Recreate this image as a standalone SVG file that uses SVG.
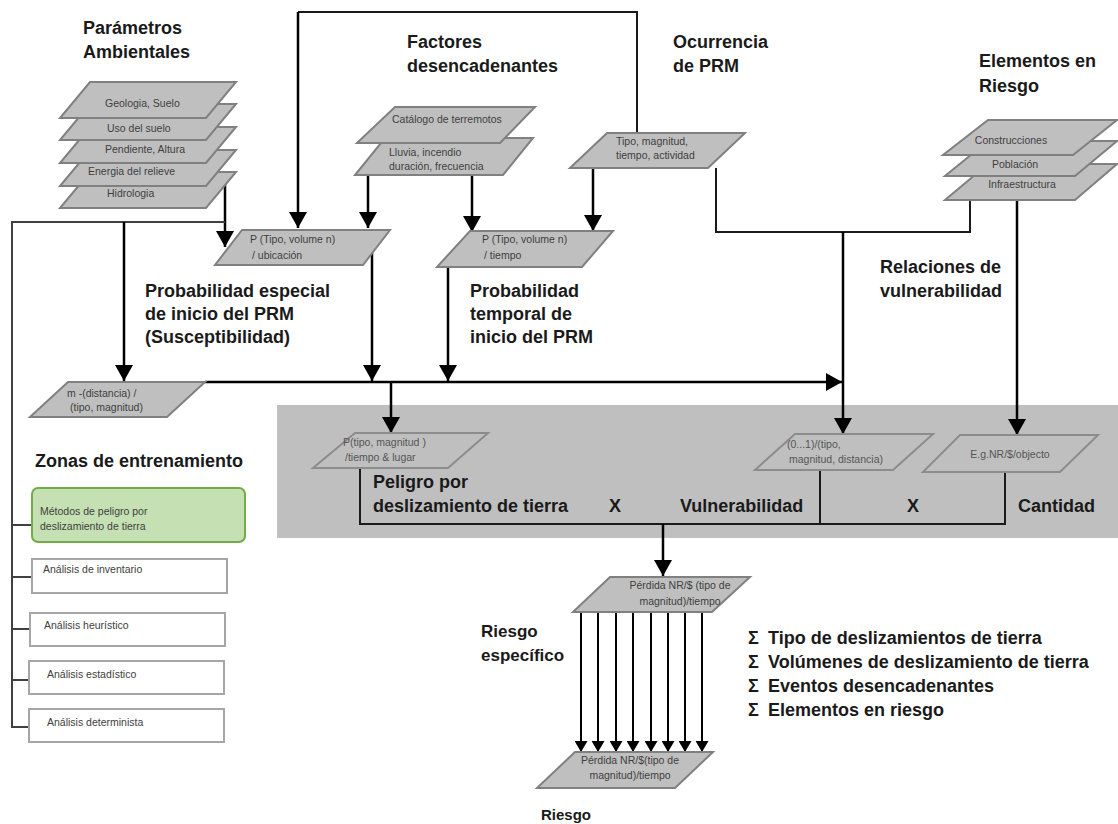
<svg xmlns="http://www.w3.org/2000/svg" width="1118" height="824" viewBox="0 0 1118 824">
<defs>
<style>
.h{font-family:"Liberation Sans",Arial,sans-serif;font-weight:bold;font-size:18px;fill:#1a1a1a}
.s{font-family:"Liberation Sans",Arial,sans-serif;font-size:10.5px;fill:#404040}
.sp{font-family:"Liberation Sans",Arial,sans-serif;font-size:10.5px;fill:#555}
.layer{fill:#bfbfbf;stroke:#808080;stroke-width:2}
.pl{fill:none;stroke:#8c8c8c;stroke-width:2}
.ar{fill:none;stroke:#000;stroke-width:2.5;marker-end:url(#ah)}
.ar2{fill:none;stroke:#000;stroke-width:2;marker-end:url(#ah2)}
.ln{fill:none;stroke:#1a1a1a;stroke-width:2}
.lg{fill:none;stroke:#404040;stroke-width:2}
.box{fill:#fff;stroke:#a6a6a6;stroke-width:2}
</style>
<marker id="ah" viewBox="0 0 16 18" refX="16" refY="9" markerWidth="16" markerHeight="18" markerUnits="userSpaceOnUse" orient="auto"><path d="M0,0 L16,9 L0,18 z" fill="#000"/></marker>
<marker id="ah2" viewBox="0 0 11 13" refX="11" refY="6.5" markerWidth="11" markerHeight="13" markerUnits="userSpaceOnUse" orient="auto"><path d="M0,0 L11,6.5 L0,13 z" fill="#000"/></marker>
</defs>
<rect width="1118" height="824" fill="#fff"/>

<g id="panel"><rect x="277" y="405" width="841" height="133" fill="#bfbfbf"/></g>

<g id="titles">
<text class="h" x="83" y="34">Parámetros</text><text class="h" x="83" y="58">Ambientales</text>
<text class="h" x="407" y="48">Factores</text><text class="h" x="407" y="72">desencadenantes</text>
<text class="h" x="673" y="48">Ocurrencia</text><text class="h" x="673" y="72">de PRM</text>
<text class="h" x="979" y="67">Elementos en</text><text class="h" x="979" y="92">Riesgo</text>
<text class="h" x="145" y="297">Probabilidad especial</text><text class="h" x="145" y="320">de inicio del PRM</text><text class="h" x="145" y="343">(Susceptibilidad)</text>
<text class="h" x="470" y="297">Probabilidad</text><text class="h" x="470" y="320">temporal de</text><text class="h" x="470" y="343">inicio del PRM</text>
<text class="h" x="880" y="273">Relaciones de</text><text class="h" x="880" y="297">vulnerabilidad</text>
<text class="h" x="35" y="467">Zonas de entrenamiento</text>
<text class="h" x="373" y="488">Peligro por</text><text class="h" x="373" y="512">deslizamiento de tierra</text>
<text class="h" x="615" y="512" text-anchor="middle">X</text>
<text class="h" x="680" y="512">Vulnerabilidad</text>
<text class="h" x="913" y="512" text-anchor="middle">X</text>
<text class="h" x="1018" y="512">Cantidad</text>
<text class="h" x="481" y="637" style="font-size:17px">Riesgo</text><text class="h" x="481" y="661" style="font-size:17px">específico</text>
<text class="h" x="541" y="820" style="font-size:15px">Riesgo</text>
<text class="h" x="748" y="644">Σ</text><text class="h" x="768" y="644">Tipo de deslizamientos de tierra</text>
<text class="h" x="748" y="668">Σ</text><text class="h" x="768" y="668">Volúmenes de deslizamiento de tierra</text>
<text class="h" x="748" y="692">Σ</text><text class="h" x="768" y="692">Eventos desencadenantes</text>
<text class="h" x="748" y="716">Σ</text><text class="h" x="768" y="716">Elementos en riesgo</text>
</g>

<g id="connectors">
<path class="ln" d="M637,132 V12 H298"/>
<path class="ar" d="M298,12 V228"/>
<path class="ar" d="M225,178 V247"/>
<path class="lg" d="M12,728 V222 H225"/>
<path class="ar" d="M124,222 V381"/>
<path class="ar" d="M368,175 V228"/>
<path class="ar" d="M472,175 V232"/>
<path class="ar" d="M593,168 V231"/>
<path class="ar" d="M372,245 V381"/>
<path class="ar" d="M448,267 V381"/>
<path class="ar" d="M205,382 H842"/>
<path class="ar" d="M391,382 V433"/>
<path class="ln" stroke-width="1.8" d="M716,168 V232 H970 V200"/>
<path class="ar" d="M843,232 V434"/>
<path class="ar" d="M1017,200 V435"/>
<path class="ln" d="M360,468 V524 H1005 V472 M820,470 V524"/>
<path class="ar" d="M663,524 V576"/>
<path class="ar2" d="M581,612 V752"/>
<path class="ar2" d="M598,612 V752"/>
<path class="ar2" d="M616,612 V752"/>
<path class="ar2" d="M633,612 V752"/>
<path class="ar2" d="M651,612 V752"/>
<path class="ar2" d="M668,612 V752"/>
<path class="ar2" d="M685,612 V752"/>
<path class="ar2" d="M702,612 V752"/>
<path class="lg" d="M12,525 H32 M12,577 H32 M12,629 H30 M12,680 H29 M12,727 H29"/>
</g>

<g id="parametros">
<polygon class="layer" points="90,172 236,172 206,208 60,208"/>
<polygon class="layer" points="90,150 236,150 206,186 60,186"/>
<polygon class="layer" points="90,127 236,127 206,163 60,163"/>
<polygon class="layer" points="90,104 236,104 206,140 60,140"/>
<polygon class="layer" points="90,82 236,82 206,118 60,118"/>
<text class="s" x="105" y="107">Geologia, Suelo</text>
<text class="s" x="107" y="132">Uso del suelo</text>
<text class="s" x="105" y="153">Pendiente, Altura</text>
<text class="s" x="88" y="175">Energia del relieve</text>
<text class="s" x="107" y="197">Hidrologia</text>
</g>

<g id="factores">
<polygon class="layer" points="385,138 533,138 503,175 355,175"/>
<polygon class="layer" points="395,107 535,107 500,143 357,143"/>
<text class="s" x="392" y="123">Catálogo de terremotos</text>
<text class="s" x="389" y="156">Lluvia, incendio</text>
<text class="s" x="389" y="170">duración, frecuencia</text>
</g>

<g id="ocurrencia">
<polygon class="layer" points="607,133 745,133 708,168 570,168"/>
<text class="s" x="616" y="145">Tipo, magnitud,</text>
<text class="s" x="616" y="159">tiempo, actividad</text>
</g>

<g id="elementos">
<polygon class="layer" points="988,164 1117,164 1075,200 945,200"/>
<polygon class="layer" points="988,141 1117,141 1075,176 945,176"/>
<polygon class="layer" points="988,120 1117,120 1073,155 943,155"/>
<text class="s" x="1011" y="144" text-anchor="middle">Construcciones</text>
<text class="s" x="1015" y="168" text-anchor="middle">Población</text>
<text class="s" x="1022" y="188" text-anchor="middle">Infraestructura</text>
</g>

<g id="p-ubicacion">
<polygon class="layer" points="242,230 390,230 363,265 215,265"/>
<text class="s" x="250" y="243">P (Tipo, volume n)</text>
<text class="s" x="252" y="259">/ ubicación</text>
</g>

<g id="p-tiempo">
<polygon class="layer" points="470,231 613,231 582,267 437,267"/>
<text class="s" x="482" y="243">P (Tipo, volume n)</text>
<text class="s" x="484" y="259">/ tiempo</text>
</g>

<g id="m-distancia">
<polygon class="layer" points="68,382 205,382 167,417 30,417"/>
<text class="s" x="67" y="397">m -(distancia) /</text>
<text class="s" x="70" y="411">(tipo, magnitud)</text>
</g>

<g id="peligro">
<polygon class="pl" points="355,433 488,433 448,468 313,468"/>
<text class="sp" x="343" y="446">P(tipo, magnitud )</text>
<text class="sp" x="345" y="461">/tiempo &amp; lugar</text>
</g>

<g id="vulnerabilidad">
<polygon class="pl" points="795,434 933,434 893,470 755,470"/>
<text class="sp" x="787" y="448">(0...1)/(tipo,</text>
<text class="sp" x="789" y="463">magnitud, distancia)</text>
</g>

<g id="cantidad">
<polygon class="pl" points="960,435 1098,435 1060,472 923,472"/>
<text class="sp" x="1010" y="458" text-anchor="middle">E.g.NR/$/objecto</text>
</g>

<g id="perdida-especifica">
<polygon class="layer" points="610,577 750,577 712,612 573,612"/>
<text class="s" x="680" y="589" text-anchor="middle">Pérdida NR/$ (tipo de</text>
<text class="s" x="680" y="605" text-anchor="middle">magnitud)/tiempo</text>
</g>

<g id="perdida-riesgo">
<polygon class="layer" points="575,752 713,752 675,788 537,788"/>
<text class="s" x="630" y="764" text-anchor="middle">Pérdida NR/$(tipo de</text>
<text class="s" x="630" y="779" text-anchor="middle">magnitud)/tiempo</text>
</g>

<g id="metodos">
<rect x="32" y="488" width="213" height="54" rx="6" fill="#c5e0b3" stroke="#70ad47" stroke-width="2"/>
<text class="s" x="40" y="515">Métodos de peligro por</text>
<text class="s" x="40" y="530">deslizamiento de tierra</text>
</g>
<g id="inventario"><rect class="box" x="32" y="559" width="195" height="34"/><text class="s" x="43" y="573">Análisis de inventario</text></g>
<g id="heuristico"><rect class="box" x="30" y="613" width="195" height="33"/><text class="s" x="44" y="629">Análisis heurístico</text></g>
<g id="estadistico"><rect class="box" x="29" y="661" width="195" height="33"/><text class="s" x="47" y="678">Análisis estadístico</text></g>
<g id="determinista"><rect class="box" x="29" y="709" width="195" height="33"/><text class="s" x="47" y="726">Análisis determinista</text></g>
</svg>
